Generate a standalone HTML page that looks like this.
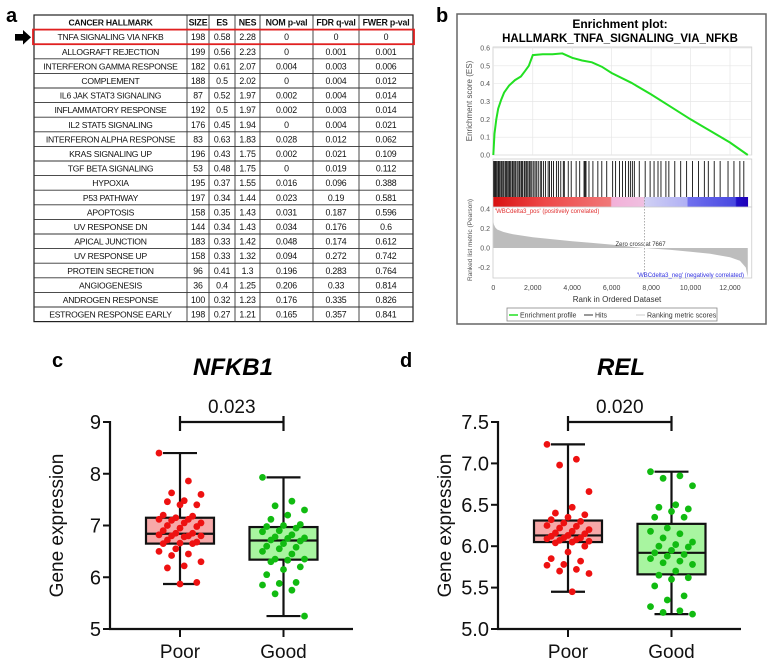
<!DOCTYPE html>
<html><head><meta charset="utf-8">
<style>
html,body{margin:0;padding:0;background:#fff;}
svg{display:block;font-family:"Liberation Sans",sans-serif;}
</style></head>
<body>
<svg id="fig" width="774" height="664" viewBox="0 0 774 664">
  <text x="6" y="22" font-size="20" font-weight="bold">a</text>
  <text x="436" y="22" font-size="20" font-weight="bold">b</text>
  <text x="52" y="367" font-size="20" font-weight="bold">c</text>
  <text x="400" y="367" font-size="20" font-weight="bold">d</text>
  <g id="table"></g>
  <g id="gsea"></g>
  <g id="boxc"></g>
  <g id="boxd"></g>
</svg>
<script>
const NS="http://www.w3.org/2000/svg";
function mk(parent,tag,attrs,text){const e=document.createElementNS(NS,tag);for(const k in attrs)e.setAttribute(k,attrs[k]);if(text!==undefined)e.textContent=text;parent.appendChild(e);return e;}

// ---------- Table data ----------
const tableHeader=["CANCER HALLMARK","SIZE","ES","NES","NOM p-val","FDR q-val","FWER p-val"];
const hallmarks=["TNFA SIGNALING VIA NFKB","ALLOGRAFT REJECTION","INTERFERON GAMMA RESPONSE","COMPLEMENT","IL6 JAK STAT3 SIGNALING","INFLAMMATORY RESPONSE","IL2 STAT5 SIGNALING","INTERFERON ALPHA RESPONSE","KRAS SIGNALING UP","TGF BETA SIGNALING","HYPOXIA","P53 PATHWAY","APOPTOSIS","UV RESPONSE DN","APICAL JUNCTION","UV RESPONSE UP","PROTEIN SECRETION","ANGIOGENESIS","ANDROGEN RESPONSE","ESTROGEN RESPONSE EARLY"];
const sizes=["198","199","182","188","87","192","176","83","196","53","195","197","158","144","183","158","96","36","100","198"];
const esVals=["0.58","0.56","0.61","0.5","0.52","0.5","0.45","0.63","0.43","0.48","0.37","0.34","0.35","0.34","0.33","0.33","0.41","0.4","0.32","0.27"];
const nesVals=["2.28","2.23","2.07","2.02","1.97","1.97","1.94","1.83","1.75","1.75","1.55","1.44","1.43","1.43","1.42","1.32","1.3","1.25","1.23","1.21"];
const nomP=["0","0","0.004","0","0.002","0.002","0","0.028","0.002","0","0.016","0.023","0.031","0.034","0.048","0.094","0.196","0.206","0.176","0.165"];
const fdrQ=["0","0.001","0.003","0.004","0.004","0.003","0.004","0.012","0.021","0.019","0.096","0.19","0.187","0.176","0.174","0.272","0.283","0.33","0.335","0.357"];
const fwerP=["0","0.001","0.006","0.012","0.014","0.014","0.021","0.062","0.109","0.112","0.388","0.581","0.596","0.6","0.612","0.742","0.764","0.814","0.826","0.841"];

(function(){
  const g=document.getElementById('table');
  const cols=[34,187,209,235,260,313,359,413];
  const top=15,rh=14.6,n=hallmarks.length+1;
  const bottom=top+rh*n;
  mk(g,'rect',{x:cols[0],y:top,width:cols[7]-cols[0],height:bottom-top,fill:'#fff',stroke:'#222','stroke-width':1.2});
  for(let i=1;i<n;i++){const l=mk(g,'line',{x1:cols[0],x2:cols[7],y1:top+i*rh,y2:top+i*rh,stroke:'#333','stroke-width':0.9});}
  for(let j=1;j<7;j++){mk(g,'line',{x1:cols[j],x2:cols[j],y1:top,y2:bottom,stroke:'#333','stroke-width':0.9});}
  const rows=[tableHeader].concat(hallmarks.map((h,i)=>[h,sizes[i],esVals[i],nesVals[i],nomP[i],fdrQ[i],fwerP[i]]));
  rows.forEach((r,i)=>{
    r.forEach((t,j)=>{
      const cx=(cols[j]+cols[j+1])/2;
      const el=mk(g,'text',{x:cx,y:top+i*rh+10.6,'font-size':(j===0?8.6:8.8),'text-anchor':'middle','font-weight':i===0?'bold':'normal',fill:'#111','letter-spacing':j===0?'-0.25':'-0.2'},t);
      
      
    });
  });
  const hl=mk(g,'rect',{x:33,y:top+rh,width:381,height:rh,fill:'none',stroke:'#e02020','stroke-width':1.8});
  
  
  const ar=mk(g,'path',{d:'M15,34 L23,34 L23,30 L31,37.3 L23,44.6 L23,40.6 L15,40.6 Z',fill:'#000'});
  
  
})();

// ---------- GSEA data ----------
const esRanks=[0,60,150,250,400,550,800,1100,1400,1600,1800,2000,2500,3000,3500,4000,4500,5000,5500,6000,7000,8000,9000,10000,11000,12000,12900];
const esScores=[0,0.12,0.2,0.26,0.31,0.35,0.39,0.42,0.44,0.47,0.5,0.56,0.565,0.565,0.57,0.545,0.53,0.52,0.495,0.46,0.405,0.34,0.27,0.2,0.135,0.07,0.0];
const hitRanks=[20,60,110,150,200,260,300,350,420,480,530,600,650,700,760,820,880,950,1000,1060,1120,1200,1260,1330,1400,1450,1500,1580,1650,1700,1760,1830,1900,1960,2050,2120,2200,2280,2380,2450,2550,2650,2780,2850,2950,3050,3200,3300,3420,3550,3600,3800,3950,4200,4380,4600,4650,4700,4850,5050,5300,5500,5750,6050,6200,6400,6550,6700,6850,6950,7050,7150,7400,7700,7950,8150,8350,8500,8750,8900,9200,9500,9800,10100,10400,10700,10900,11200,11500,11900,12200,12500,12700];
const metricRanks=[0,30,100,200,500,1000,2000,3000,4000,5000,6000,7000,7667,8000,9000,10000,11000,12000,12500,12800,12900];
const metricVals=[0.27,0.24,0.21,0.19,0.165,0.14,0.11,0.09,0.07,0.052,0.035,0.012,0,-0.005,-0.02,-0.038,-0.06,-0.095,-0.13,-0.2,-0.3];
const esTicks=[0,0.1,0.2,0.3,0.4,0.5,0.6];
const metricTicks=[0.4,0.2,0.0,-0.2];
const rankTicks=[0,2000,4000,6000,8000,10000,12000];
const rankTickLabels=["0","2,000","4,000","6,000","8,000","10,000","12,000"];

(function(){
  const g=document.getElementById('gsea');
  const X=r=>493.3+(r/12000)*(730-493.3);
  const YE=v=>155-(v/0.6)*(155-48);
  const YM=v=>248-(v/0.4)*(248-209);
  const xEnd=X(12900)+1;
  mk(g,'rect',{x:457,y:14,width:309,height:310,fill:'#fff',stroke:'#666','stroke-width':1.5});
  mk(g,'text',{x:620,y:28,'font-size':12,'font-weight':'bold','text-anchor':'middle'},'Enrichment plot:');
  mk(g,'text',{x:620,y:42,'font-size':11.5,'font-weight':'bold','text-anchor':'middle'},'HALLMARK_TNFA_SIGNALING_VIA_NFKB');
  // ES panel
  mk(g,'rect',{x:493,y:47,width:xEnd-493+3,height:108,fill:'#fff',stroke:'#ccc','stroke-width':0.8});
  rankTicks.forEach(r=>{if(r>0)mk(g,'line',{x1:X(r),x2:X(r),y1:47,y2:155,stroke:'#e6e6e6','stroke-width':0.7});});
  esTicks.forEach(t=>{
    mk(g,'line',{x1:493,x2:xEnd+3,y1:YE(t),y2:YE(t),stroke:'#e6e6e6','stroke-width':0.7});
    const tl=mk(g,'text',{x:490,y:YE(t)+2.5,'font-size':7,'text-anchor':'end',fill:'#555'},t.toFixed(1));
    
    
  });
  mk(g,'text',{x:0,y:0,'font-size':8,fill:'#555','text-anchor':'middle',transform:'translate(472,101) rotate(-90)'},'Enrichment score (ES)');
  const pts=esRanks.map((r,i)=>X(r).toFixed(1)+','+YE(esScores[i]).toFixed(1)).join(' ');
  const line=mk(g,'polyline',{points:pts,fill:'none',stroke:'#22e022','stroke-width':2});
  
  
  // Hits panel
  mk(g,'rect',{x:493,y:159,width:xEnd-493+3,height:48,fill:'#fff',stroke:'#ccc','stroke-width':0.8});
  hitRanks.forEach(r=>{
    const h=mk(g,'line',{x1:X(r),x2:X(r),y1:161,y2:197,stroke:'#111','stroke-width':0.9});
    
    
  });
  const defs=mk(g,'defs',{});
  const lg=mk(defs,'linearGradient',{id:'rankgrad',x1:'0',x2:'1',y1:'0',y2:'0'});
  [[0,'#d81010'],[0.2,'#ee4848'],[0.46,'#f07878'],[0.465,'#f2b0d8'],[0.59,'#f0bfe0'],[0.595,'#d0d0f4'],[0.76,'#b0b0f4'],[0.765,'#7070ee'],[0.95,'#4848e0'],[0.955,'#2010c8'],[1,'#2000b8']].forEach(s=>mk(lg,'stop',{offset:s[0],'stop-color':s[1]}));
  const cb=mk(g,'rect',{x:493.3,y:197,width:xEnd-494,height:10,fill:'url(#rankgrad)'});
  
  
  // Metric panel
  mk(g,'rect',{x:493,y:207,width:xEnd-493+3,height:71,fill:'#fff',stroke:'#ccc','stroke-width':0.8});
  const area='M'+X(0)+','+YM(0)+' '+metricRanks.map((r,i)=>'L'+X(r).toFixed(1)+','+YM(metricVals[i]).toFixed(1)).join(' ')+' L'+X(12900)+','+YM(0)+' Z';
  const ar=mk(g,'path',{d:area,fill:'#bdbdbd',stroke:'none'});
  
  
  mk(g,'line',{x1:X(7667),x2:X(7667),y1:197,y2:278,stroke:'#999','stroke-width':0.8,'stroke-dasharray':'1.5,1.5'});
  mk(g,'text',{x:X(7667)-4,y:246,'font-size':6,'text-anchor':'middle',fill:'#333'},'Zero cross at 7667');
  mk(g,'text',{x:495,y:213,'font-size':6,fill:'#e03030'},"'WBCdelta3_pos' (positively correlated)");
  mk(g,'text',{x:744,y:277,'font-size':6,fill:'#3030e0','text-anchor':'end'},"'WBCdelta3_neg' (negatively correlated)");
  metricTicks.forEach(t=>{
    const tl=mk(g,'text',{x:490,y:YM(t)+2.5,'font-size':7,'text-anchor':'end',fill:'#555'},t.toFixed(1));
    
    
  });
  mk(g,'text',{x:0,y:0,'font-size':6.5,fill:'#555','text-anchor':'middle',transform:'translate(472,240) rotate(-90)'},'Ranked list metric (Pearson)');
  rankTicks.forEach((r,i)=>{
    const tl=mk(g,'text',{x:X(r),y:290,'font-size':7,'text-anchor':'middle',fill:'#444'},rankTickLabels[i]);
    
    
  });
  mk(g,'text',{x:617,y:302,'font-size':8,'text-anchor':'middle',fill:'#333'},'Rank in Ordered Dataset');
  const leg=mk(g,'g',{});
  
  
  mk(leg,'rect',{x:507,y:308,width:210,height:13,fill:'#fff',stroke:'#888','stroke-width':0.8});
  mk(leg,'line',{x1:509,x2:518,y1:315,y2:315,stroke:'#22e022','stroke-width':1.5});
  mk(leg,'text',{x:520,y:317.5,'font-size':7,fill:'#333'},'Enrichment profile');
  mk(leg,'line',{x1:584,x2:593,y1:315,y2:315,stroke:'#333','stroke-width':1});
  mk(leg,'text',{x:595,y:317.5,'font-size':7,fill:'#333'},'Hits');
  mk(leg,'line',{x1:636,x2:645,y1:315,y2:315,stroke:'#ccc','stroke-width':1});
  mk(leg,'text',{x:647,y:317.5,'font-size':7,fill:'#333'},'Ranking metric scores');
})();

// ---------- Box plot data ----------
const groups=["Poor","Good"];
const nfkb1Poor=[8.4,7.86,7.63,7.6,7.48,7.46,7.4,7.4,7.2,7.18,7.15,7.12,7.12,7.1,7.05,7.05,7.0,6.98,6.95,6.9,6.85,6.85,6.82,6.8,6.8,6.8,6.78,6.72,6.68,6.66,6.65,6.65,6.55,6.5,6.45,6.42,6.3,6.22,6.18,5.9,5.87];
const nfkb1Good=[7.93,7.47,7.38,7.3,7.2,7.12,7.02,7.0,6.98,6.95,6.9,6.88,6.82,6.78,6.76,6.75,6.72,6.7,6.65,6.6,6.58,6.55,6.5,6.45,6.35,6.35,6.33,6.3,6.2,6.15,6.05,5.9,5.88,5.85,5.75,5.68,5.25];
const nfkb1Stats=[[5.87,6.65,6.84,7.15,8.4],[5.25,6.34,6.71,6.97,7.93]];
const relPoor=[7.23,7.05,6.98,6.66,6.47,6.4,6.38,6.35,6.32,6.3,6.28,6.25,6.24,6.22,6.2,6.18,6.16,6.15,6.13,6.12,6.1,6.1,6.09,6.08,6.07,6.06,6.05,6.04,6.0,5.93,5.85,5.82,5.78,5.77,5.72,5.7,5.67,5.45];
const relGood=[6.9,6.85,6.82,6.73,6.5,6.47,6.45,6.42,6.35,6.35,6.22,6.18,6.15,6.1,6.05,6.02,6.0,5.99,5.95,5.92,5.9,5.88,5.85,5.82,5.8,5.78,5.7,5.65,5.62,5.6,5.52,5.4,5.35,5.27,5.22,5.2,5.18];
const relStats=[[5.45,6.05,6.13,6.31,7.23],[5.18,5.66,5.92,6.27,6.9]];
const nfkb1Ticks=[5,6,7,8,9];
const relTicks=[5.0,5.5,6.0,6.5,7.0,7.5];

function boxPlot(gid,cfg){
  const g=document.getElementById(gid);
  const ax=cfg.ax, y0=629, y1=422;
  const Y=v=>y0-(v-cfg.min)/(cfg.max-cfg.min)*(y0-y1);
  const X=i=>ax+70+i*103.5;
  mk(g,'text',{x:ax+123,y:375,'font-size':24,'font-weight':'bold','font-style':'italic','text-anchor':'middle'},cfg.title);
  mk(g,'line',{x1:ax,x2:ax,y1:y1-1,y2:y0+1,stroke:'#111','stroke-width':2.2});
  mk(g,'line',{x1:ax-1,x2:ax+243,y1:y0,y2:y0,stroke:'#111','stroke-width':2.2});
  cfg.ticks.forEach(t=>{
    mk(g,'line',{x1:ax-7,x2:ax,y1:Y(t),y2:Y(t),stroke:'#111','stroke-width':2});
    const tl=mk(g,'text',{x:ax-9,y:Y(t)+7,'font-size':20,'text-anchor':'end',fill:'#111'},cfg.fmt(t));
    
    
  });
  mk(g,'text',{x:0,y:0,'font-size':19,'text-anchor':'middle',fill:'#111',transform:'translate('+(ax-47)+','+((y0+y1)/2)+') rotate(-90)'},'Gene expression');
  groups.forEach((name,i)=>{
    mk(g,'line',{x1:X(i),x2:X(i),y1:y0,y2:y0+8,stroke:'#111','stroke-width':2});
    const tl=mk(g,'text',{x:X(i),y:y0+29,'font-size':19,'text-anchor':'middle',fill:'#111'},name);
    
    
    const s=cfg.stats[i], cx=X(i);
    mk(g,'line',{x1:cx,x2:cx,y1:Y(s[4]),y2:Y(s[0]),stroke:'#111','stroke-width':2.2});
    mk(g,'line',{x1:cx-17,x2:cx+17,y1:Y(s[4]),y2:Y(s[4]),stroke:'#111','stroke-width':2.2});
    mk(g,'line',{x1:cx-17,x2:cx+17,y1:Y(s[0]),y2:Y(s[0]),stroke:'#111','stroke-width':2.2});
    const bx=mk(g,'rect',{x:cx-34,y:Y(s[3]),width:68,height:Y(s[1])-Y(s[3]),fill:i===0?'#f7a8a8':'#a8f5a0',stroke:'#111','stroke-width':2.2});
    
    
    mk(g,'line',{x1:cx-34,x2:cx+34,y1:Y(s[2]),y2:Y(s[2]),stroke:'#111','stroke-width':2.2});
    const vals=cfg.points[i];
    vals.forEach((v,k)=>{
      const off=((k*7)%11-5)*4.2;
      const d=mk(g,'circle',{cx:cx+off,cy:Y(v),r:3.4,fill:i===0?'#ee1111':'#11bb11'});
      
      
    });
  });
  const by=422;
  mk(g,'path',{d:'M'+X(0)+','+(by+9)+' L'+X(0)+','+(by-6)+' M'+X(0)+','+by+' L'+X(1)+','+by+' M'+X(1)+','+(by+9)+' L'+X(1)+','+(by-6),stroke:'#111','stroke-width':2.2,fill:'none'});
  mk(g,'text',{x:(X(0)+X(1))/2,y:413,'font-size':19,'text-anchor':'middle',fill:'#111'},cfg.p);
}
boxPlot('boxc',{ax:110,min:5,max:9,ticks:nfkb1Ticks,fmt:t=>String(t),title:'NFKB1',stats:nfkb1Stats,points:[nfkb1Poor,nfkb1Good],p:'0.023'});
boxPlot('boxd',{ax:498,min:5,max:7.5,ticks:relTicks,fmt:t=>t.toFixed(1),title:'REL',stats:relStats,points:[relPoor,relGood],p:'0.020'});
</script>
</body></html>
